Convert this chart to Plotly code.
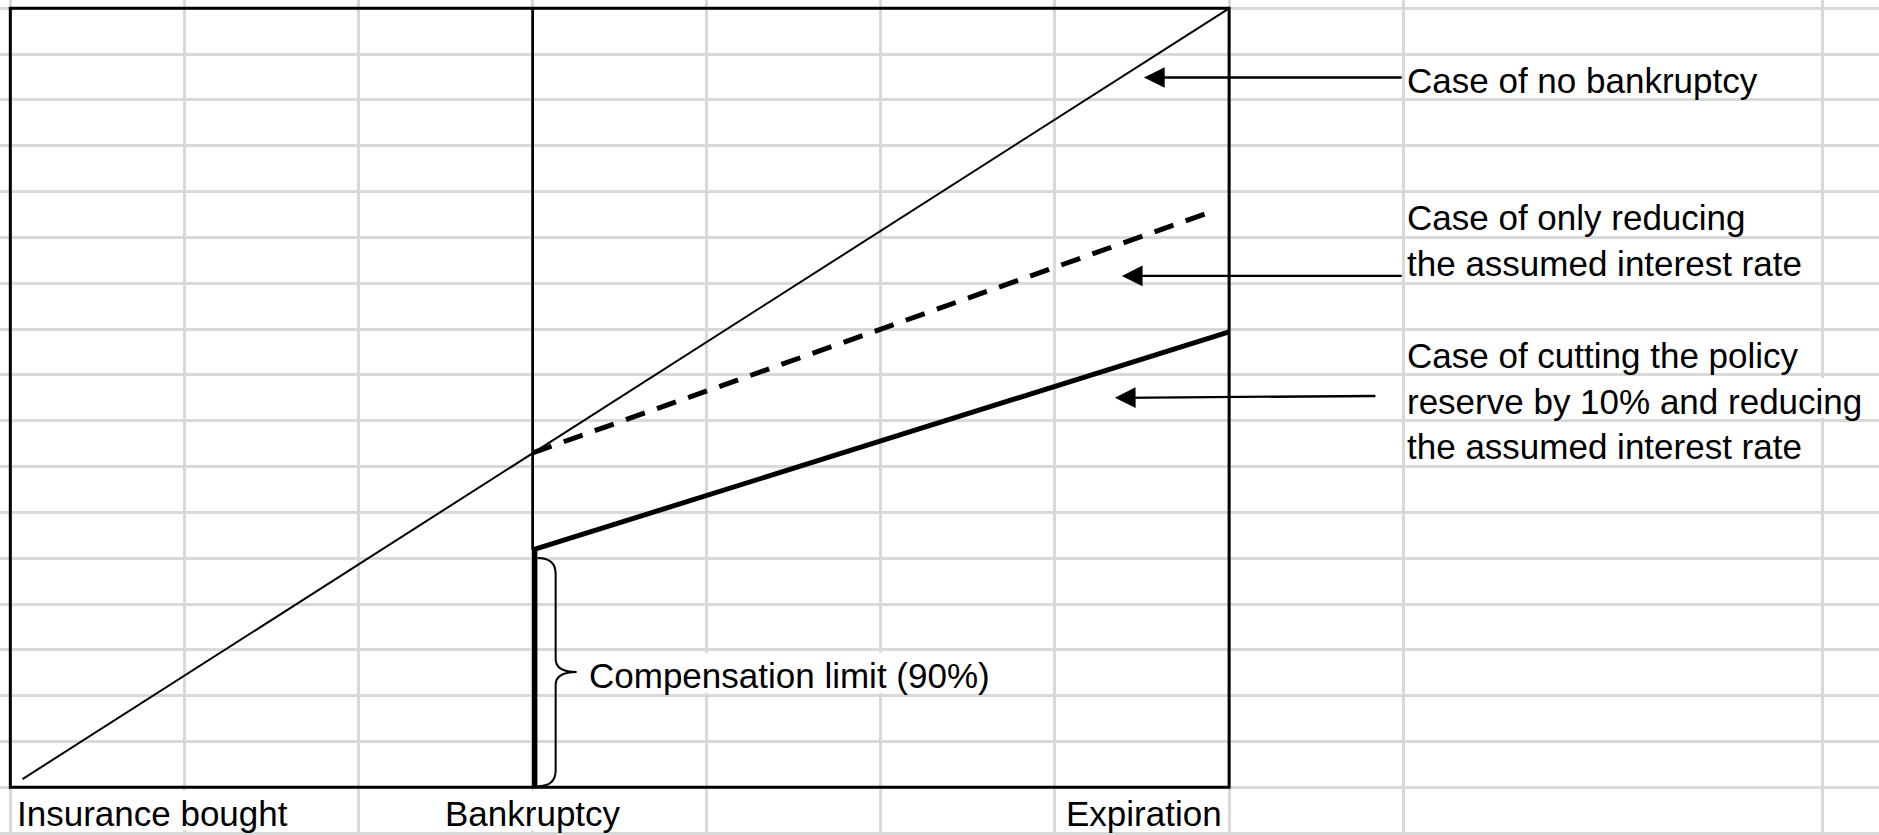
import plotly.graph_objects as go

# ---------------- data (schematic units: x = time in grid columns, y = reserve in grid rows) ----------------
phase_labels = ["Insurance bought", "Bankruptcy", "Expiration"]
phase_x = [0, 3, 7]
reserve_top = 17

no_bankruptcy_x = [0.07, 7]
no_bankruptcy_y = [0.18, 17]

rate_cut_x = [3, 6.86]
rate_cut_y = [7.30, 12.51]

reserve_cut_x = [3, 7]
reserve_cut_y = [5.18, 9.94]

compensation_limit = 5.18

case_labels = [
    "Case of no bankruptcy",
    "Case of only reducing<br>the assumed interest rate",
    "Case of cutting the policy<br>reserve by 10% and reducing<br>the assumed interest rate",
]
compensation_label = "Compensation limit (90%)"

grid_x = [0, 1, 2, 3, 4, 5, 6, 7, 8, 10.41]
grid_y = list(range(-1, 18))

# ---------------- scale helpers (pixels -> axis units) ----------------
W, H = 1879, 835
X_RANGE = [-0.0592, 10.7326]
Y_RANGE = [-1.04, 17.181]
PXX = (X_RANGE[1] - X_RANGE[0]) / W   # axis units per pixel (x)
PXY = (Y_RANGE[1] - Y_RANGE[0]) / H   # axis units per pixel (y)

FONT = dict(family="Liberation Sans, Arial, sans-serif", size=35, color="black")
GRID = "#d9d9d9"

fig = go.Figure()

bk = phase_x[1]

# Case of no bankruptcy
fig.add_trace(go.Scatter(x=no_bankruptcy_x, y=no_bankruptcy_y, mode="lines",
                         line=dict(color="black", width=2), hoverinfo="skip"))
# Case of only reducing the assumed interest rate (dashed)
fig.add_trace(go.Scatter(x=rate_cut_x, y=rate_cut_y, mode="lines",
                         line=dict(color="black", width=5, dash="20px,13px"), hoverinfo="skip"))
# Case of cutting reserve by 10% and reducing interest rate
fig.add_trace(go.Scatter(x=reserve_cut_x, y=reserve_cut_y, mode="lines",
                         line=dict(color="black", width=5), hoverinfo="skip"))
# Bankruptcy line (thin above the compensation limit)
fig.add_trace(go.Scatter(x=[bk, bk], y=[compensation_limit, reserve_top], mode="lines",
                         line=dict(color="black", width=2.7), hoverinfo="skip"))
# Compensation limit (thick)
fig.add_trace(go.Scatter(x=[bk + 2 * PXX, bk + 2 * PXX], y=[0, compensation_limit], mode="lines",
                         line=dict(color="black", width=5.5), hoverinfo="skip"))

shapes = []
# white masks where overflowing text hides the sheet grid
def mask(xc, row):
    return dict(type="rect", xref="x", yref="y", layer="above",
                x0=xc - 5 * PXX, x1=xc + 5 * PXX, y0=row + 3 * PXY, y1=row + 1 - 3 * PXY,
                fillcolor="white", line=dict(width=0))
shapes += [mask(1, -1), mask(3, -1), mask(4, 2), mask(5, 2), mask(10.41, 8)]

# chart frame
shapes.append(dict(type="rect", xref="x", yref="y", layer="above",
                   x0=phase_x[0], x1=phase_x[-1], y0=0, y1=reserve_top,
                   line=dict(color="black", width=3), fillcolor="rgba(0,0,0,0)"))

# curly brace for the compensation limit
x0 = bk + 5 * PXX
xb = bk + 23 * PXX
xt = bk + 44 * PXX
yt = compensation_limit - 8 * PXY
yb = 0 + 1 * PXY
ym = yt - 114 * PXY
r = 16 * PXY
rt = 13 * PXY
path = (f"M{x0},{yt} Q{xb},{yt} {xb},{yt - r} L{xb},{ym + rt} "
        f"Q{xb},{ym} {xt},{ym} Q{xb},{ym} {xb},{ym - rt} "
        f"L{xb},{yb + r} Q{xb},{yb} {x0},{yb}")
shapes.append(dict(type="path", xref="x", yref="y", layer="above", path=path,
                   line=dict(color="black", width=2)))

annotations = []
# phase labels under the frame
label_y = -0.56
annotations.append(dict(x=phase_x[0] + 5 * PXX, y=label_y, text=phase_labels[0], xanchor="left",
                        yanchor="middle", showarrow=False, font=FONT))
annotations.append(dict(x=phase_x[1], y=label_y, text=phase_labels[1], xanchor="center",
                        yanchor="middle", showarrow=False, font=FONT))
annotations.append(dict(x=phase_x[2] - 5 * PXX, y=label_y, text=phase_labels[2], xanchor="right",
                        yanchor="middle", showarrow=False, font=FONT))

# case labels
case_y = [15.43, 11.94, 8.42]
for txt, yy in zip(case_labels, case_y):
    annotations.append(dict(x=8.0 + 2 * PXX, y=yy, text=txt, xanchor="left", yanchor="middle",
                            align="left", showarrow=False, font=FONT))

# arrows
arrows = [((6.511, 15.49), (8.0, 15.49)),
          ((6.384, 11.16), (8.0, 11.16)),
          ((6.344, 8.50), (7.849, 8.54))]
for (tx, ty), (sx, sy) in arrows:
    annotations.append(dict(x=tx, y=ty, ax=sx, ay=sy, axref="x", ayref="y", xref="x", yref="y",
                            text="", showarrow=True, arrowhead=2, arrowsize=1.8, arrowwidth=2.3,
                            arrowcolor="black", standoff=0))

annotations.append(dict(x=xt + 10 * PXX, y=ym - 4 * PXY, text=compensation_label, xanchor="left",
                        yanchor="middle", showarrow=False, font=FONT))

fig.update_layout(
    width=W, height=H, margin=dict(l=0, r=0, t=0, b=0, pad=0),
    paper_bgcolor="white", plot_bgcolor="white", showlegend=False,
    shapes=shapes, annotations=annotations,
    xaxis=dict(range=X_RANGE, tickvals=grid_x, showticklabels=False, ticks="",
               showgrid=True, gridcolor=GRID, gridwidth=2.5, zeroline=False, showline=False,
               fixedrange=True),
    yaxis=dict(range=Y_RANGE, tickvals=grid_y, showticklabels=False, ticks="",
               showgrid=True, gridcolor=GRID, gridwidth=2.5, zeroline=False, showline=False,
               fixedrange=True),
)

fig.write_html("out.html", config={"displayModeBar": False},
               post_script="document.body.style.margin='0';document.body.style.overflow='hidden';")
